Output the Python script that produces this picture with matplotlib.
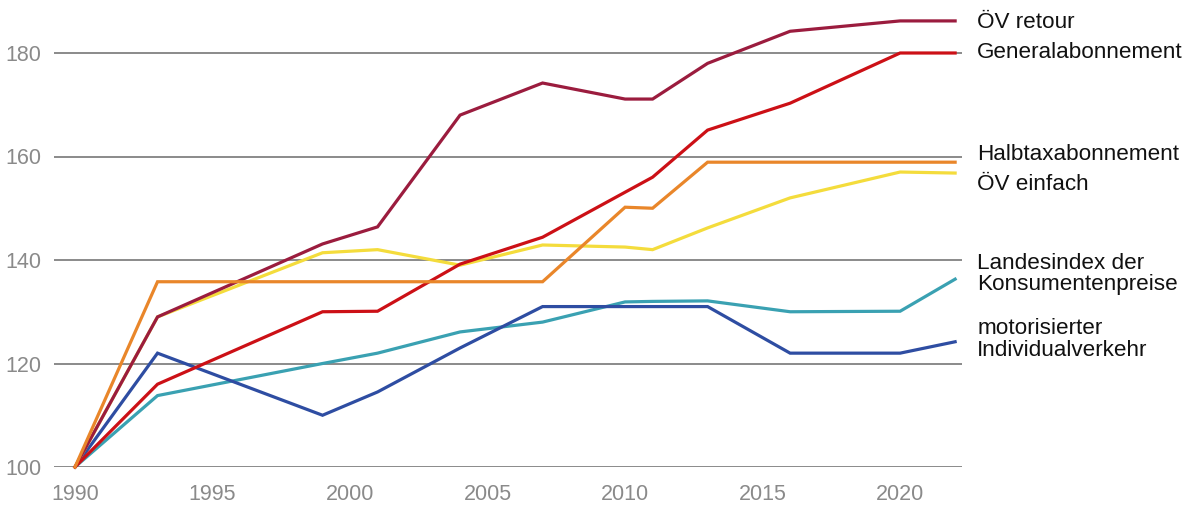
import matplotlib
matplotlib.use("Agg")
import matplotlib.pyplot as plt

years = [1990, 1993, 1999, 2001, 2004, 2007, 2010, 2011, 2013, 2016, 2020, 2022]

oev_retour = [100, 129, 143.1, 146.4, 168, 174.2, 171.1, 171.1, 178, 184.2, 186.2, 186.2]
generalabo = [100, 116, 130, 130.1, 139.2, 144.4, 153.1, 156, 165.1, 170.3, 180, 180]
halbtax = [100, 135.8, 135.8, 135.8, 135.8, 135.8, 150.2, 150, 158.9, 158.9, 158.9, 158.9]
oev_einfach = [100, 129, 141.4, 142, 139, 142.9, 142.5, 142, 146.2, 152, 157, 156.8]
lik = [100, 113.8, 120, 122, 126.1, 128, 131.9, 132, 132.1, 130, 130.1, 136.3]
miv = [100, 122, 110, 114.5, 123, 131, 131, 131, 131, 122, 122, 124.2]

series_names = ["ÖV retour", "Generalabonnement", "Halbtaxabonnement", "ÖV einfach",
                "Landesindex der\nKonsumentenpreise", "motorisierter\nIndividualverkehr"]

yticks = [100, 120, 140, 160, 180]
xticks = [1990, 1995, 2000, 2005, 2010, 2015, 2020]

plt.rcParams['font.family'] = ['Liberation Sans', 'DejaVu Sans']

fig = plt.figure(figsize=(12, 5.13), dpi=100)
ax = fig.add_axes([54/1200, 46/513, (962-54)/1200, (467-11.6)/513])
ax.set_xlim(1989.236, 2022.25)
ax.set_ylim(100, 188)

for y in yticks:
    ax.axhline(y, color="#8a8a8a", lw=1.4, zorder=1)

series = [oev_retour, generalabo, halbtax, oev_einfach, lik, miv]
colors = ["#9b1c3e", "#cc1016", "#e9862a", "#f4dc3c", "#3aa1b2", "#2e4da2"]
zorders = [5, 6, 7, 4, 3, 3.5]
for vals, c, z in zip(series, colors, zorders):
    ax.plot(years, vals, color=c, lw=2.3, zorder=z, clip_on=False, solid_joinstyle="miter")

label_y = [185.8, 180, 160.3, 154.6, 137.3, 124.6]
for name, ly in zip(series_names, label_y):
    ax.text(2022.8, ly, name, ha="left", va="center", fontsize=16.2, color="#111111",
            linespacing=1.05)

ax.set_yticks(yticks)
ax.set_xticks(xticks)
ax.tick_params(length=0, labelsize=15.5, labelcolor="#8a8a8a")
ax.tick_params(axis="y", pad=9)
ax.tick_params(axis="x", pad=12)
for s in ax.spines.values():
    s.set_visible(False)

fig.savefig("out.png", dpi=100)
